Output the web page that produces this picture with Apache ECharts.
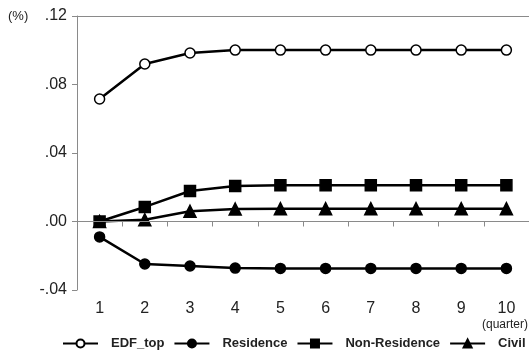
<!DOCTYPE html>
<html>
<head>
<meta charset="utf-8">
<script src="https://cdn.jsdelivr.net/npm/echarts@6/dist/echarts.min.js"></script>
<style>
  html, body { margin: 0; padding: 0; background: #fff; }
  #chart { width: 529px; height: 353px; }
</style>
</head>
<body>
<div id="chart"></div>
<script>
var quarters = ['1', '2', '3', '4', '5', '6', '7', '8', '9', '10'];
var edfTop = [0.0715, 0.092, 0.0984, 0.1001, 0.1001, 0.1001, 0.1001, 0.1001, 0.1001, 0.1001];
var residence = [-0.009, -0.0248, -0.026, -0.0272, -0.0274, -0.0274, -0.0274, -0.0274, -0.0274, -0.0274];
var nonResidence = [0, 0.0085, 0.0178, 0.0207, 0.0212, 0.0211, 0.0211, 0.0211, 0.0211, 0.0211];
var civil = [0, 0.001, 0.006, 0.0073, 0.0075, 0.0075, 0.0075, 0.0075, 0.0075, 0.0075];

var chart = echarts.init(document.getElementById('chart'));
var axisGray = '#8a8a8a';
var font = 'Arial, Liberation Sans, sans-serif';

function lineSeries(name, data, symbol, size, fill) {
  return {
    name: name,
    type: 'line',
    data: data,
    symbol: symbol,
    symbolSize: size,
    showAllSymbol: true,
    lineStyle: { color: '#000', width: 2.5 },
    itemStyle: { color: fill, borderColor: '#000', borderWidth: 1.5 },
    emphasis: { disabled: true },
    z: 3
  };
}

var series = [
  lineSeries('EDF_top', edfTop, 'circle', 10, '#fff'),
  lineSeries('Residence', residence, 'circle', 10, '#000'),
  lineSeries('Non-Residence', nonResidence, 'rect', 11, '#000'),
  lineSeries('Civil', civil, 'triangle', 12, '#000')
];
series[0].markLine = {
  silent: true,
  symbol: 'none',
  label: { show: false },
  lineStyle: { color: axisGray, width: 1, type: 'solid' },
  data: [{ yAxis: 0 }]
};

var option = {
  animation: false,
  grid: { left: 77, top: 16, width: 456, bottom: 63 },
  legend: {
    bottom: 3,
    left: 62,
    width: 470,
    padding: 0,
    itemWidth: 35,
    itemHeight: 10,
    itemGap: 9,
    textStyle: {
      fontFamily: font,
      fontWeight: 'bold',
      fontSize: 13,
      color: '#222',
      padding: [0, 0, 0, 8]
    },
    data: ['EDF_top', 'Residence', 'Non-Residence', 'Civil']
  },
  xAxis: [{
    type: 'category',
    data: quarters,
    boundaryGap: true,
    axisLine: { lineStyle: { color: axisGray, width: 1 } },
    axisTick: { show: true, length: 5, lineStyle: { color: axisGray } },
    axisLabel: {
      margin: 11,
      fontSize: 16,
      fontFamily: font,
      color: '#222'
    },
    splitLine: { show: false }
  }, {
    type: 'category',
    data: quarters,
    position: 'top',
    axisLine: { lineStyle: { color: axisGray, width: 1 } },
    axisTick: { show: false },
    axisLabel: { show: false },
    splitLine: { show: false }
  }],
  yAxis: {
    type: 'value',
    min: -0.04,
    max: 0.12,
    interval: 0.04,
    axisLine: { show: true, lineStyle: { color: axisGray, width: 1 } },
    axisTick: { show: true, length: 5, lineStyle: { color: axisGray } },
    splitLine: { show: false },
    axisLabel: {
      margin: 10,
      fontSize: 16,
      fontFamily: font,
      color: '#222',
      formatter: function (v) {
        var s = v.toFixed(2);
        return s.replace(/^(-?)0\./, '$1.');
      }
    }
  },
  graphic: [
    {
      type: 'text',
      left: 8,
      top: 10,
      style: { text: '(%)', fontSize: 13, fontFamily: font, fill: '#222' }
    },
    {
      type: 'text',
      right: 1,
      top: 319,
      style: { text: '(quarter)', fontSize: 12, fontFamily: font, fill: '#222' }
    }
  ],
  series: series
};

chart.setOption(option);
</script>
</body>
</html>
